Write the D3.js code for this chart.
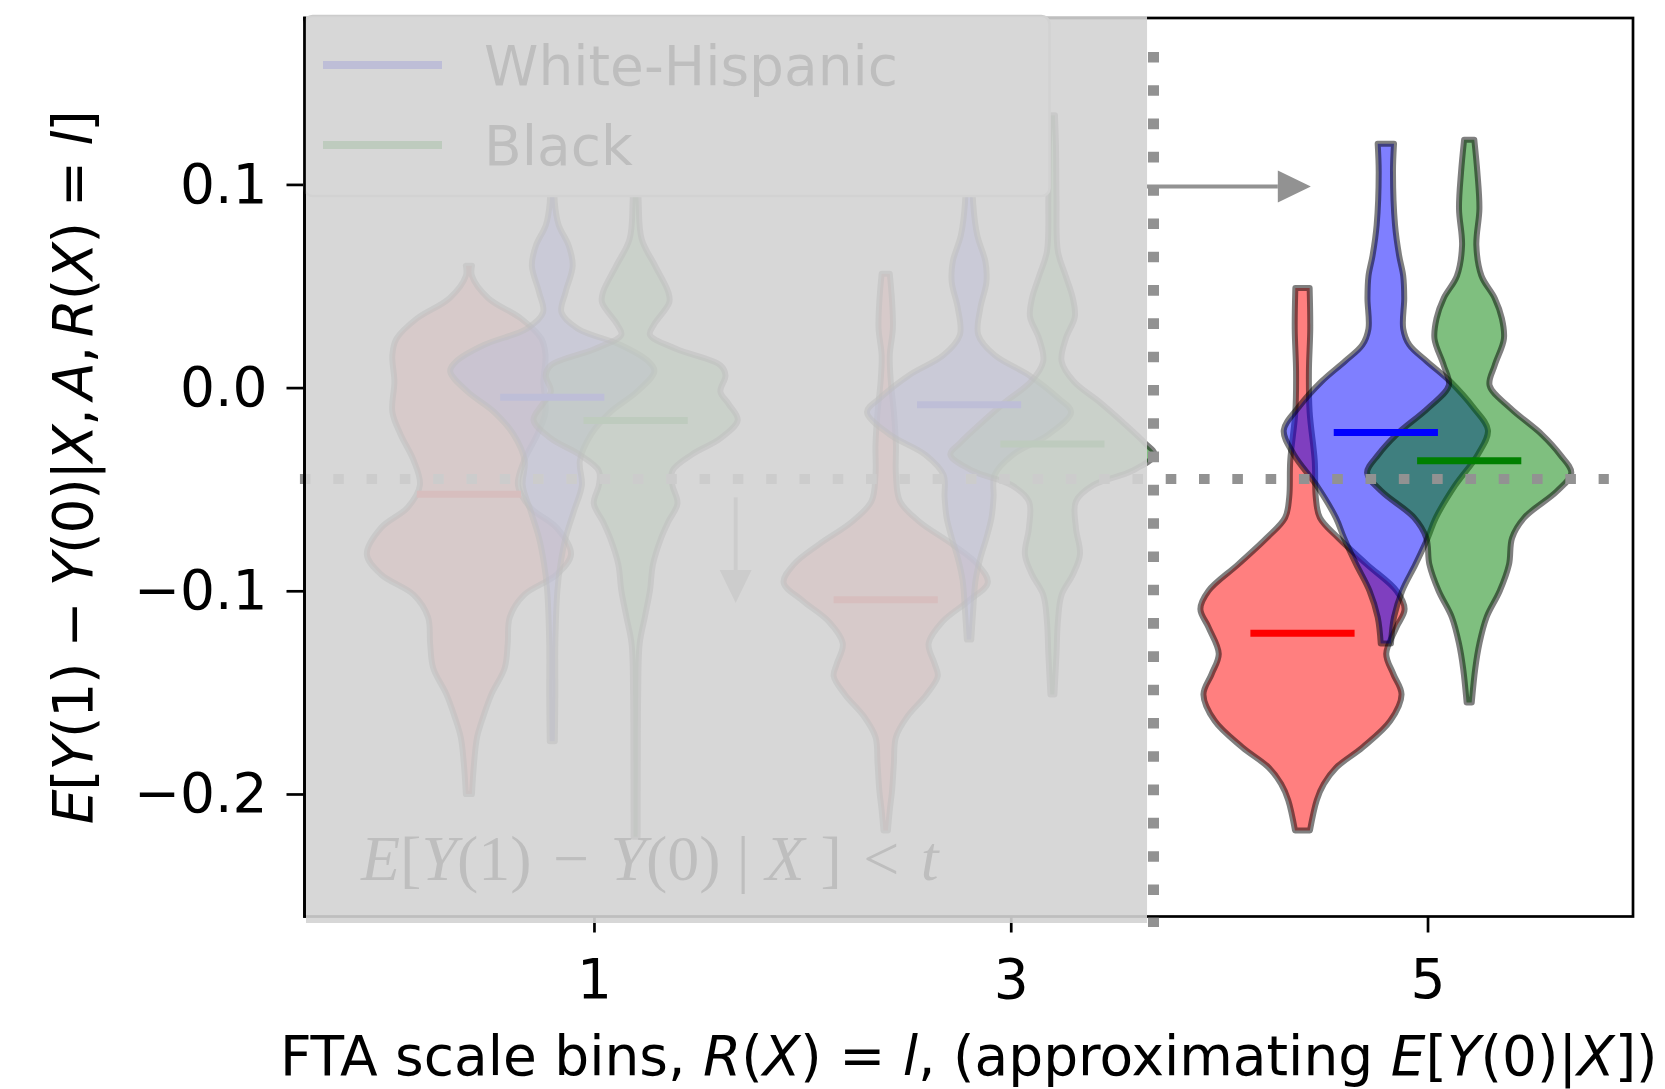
<!DOCTYPE html>
<html lang="en">
<head>
<meta charset="UTF-8">
<title>Violins by bin</title>
<script src="https://d3js.org/d3.v7.min.js"></script>
<style>body{margin:0;background:#fff} text{white-space:pre}</style>
</head>
<body>
<script>
const width = 1665, height = 1089;
const plot = {left: 304.5, right: 1633, top: 18, bottom: 916.5};

// layout of the bins and the three groups
const bins = [1, 3, 5];
const groupShift = [-0.6, -0.2, 0.2];
const colors = ["red", "blue", "green"];
const legendLabels = ["White-Hispanic", "Black"];
const yTicks = [-0.2, -0.1, 0.0, 0.1];

// violin outlines: [value, relative half width]
const red1 = [[0.060,0.03],[0.055,0.03],[0.044,0.19],[0.034,0.51],[0.024,0.71],[0.016,0.75],[0.003,0.73],[-0.012,0.75],[-0.023,0.67],[-0.036,0.54],[-0.048,0.48],[-0.059,0.60],[-0.069,0.86],[-0.082,1.0],[-0.092,0.86],[-0.102,0.54],[-0.113,0.40],[-0.126,0.38],[-0.138,0.35],[-0.151,0.22],[-0.162,0.14],[-0.172,0.08],[-0.185,0.05],[-0.200,0.03]];
const blue1 = [[0.110,0.025],[0.091,0.025],[0.080,0.063],[0.070,0.16],[0.060,0.20],[0.047,0.13],[0.037,0.09],[0.029,0.25],[0.021,0.67],[0.013,0.94],[0.008,1.0],[-0.002,0.83],[-0.012,0.57],[-0.023,0.38],[-0.036,0.27],[-0.048,0.29],[-0.061,0.21],[-0.074,0.13],[-0.087,0.08],[-0.100,0.05],[-0.126,0.03],[-0.151,0.03],[-0.174,0.025]];
const green1 = [[0.130,0.03],[0.091,0.03],[0.073,0.06],[0.060,0.19],[0.047,0.32],[0.042,0.33],[0.031,0.18],[0.026,0.14],[0.019,0.40],[0.011,0.83],[0.006,0.88],[-0.002,0.83],[-0.008,0.91],[-0.016,1.0],[-0.025,0.83],[-0.033,0.55],[-0.041,0.36],[-0.048,0.36],[-0.057,0.41],[-0.066,0.32],[-0.074,0.25],[-0.087,0.17],[-0.100,0.14],[-0.113,0.09],[-0.126,0.04],[-0.151,0.025],[-0.177,0.022],[-0.221,0.02]];
const red3 = [[0.056,0.04],[0.042,0.063],[0.029,0.07],[0.016,0.04],[0.003,0.05],[-0.012,0.08],[-0.028,0.10],[-0.043,0.10],[-0.056,0.14],[-0.066,0.33],[-0.077,0.65],[-0.087,0.90],[-0.096,1.0],[-0.105,0.81],[-0.115,0.56],[-0.126,0.42],[-0.136,0.48],[-0.142,0.51],[-0.151,0.40],[-0.162,0.21],[-0.172,0.10],[-0.185,0.08],[-0.198,0.063],[-0.208,0.04],[-0.218,0.022]];
const blue3 = [[0.125,0.03],[0.091,0.04],[0.075,0.08],[0.062,0.16],[0.052,0.17],[0.039,0.11],[0.026,0.09],[0.016,0.25],[0.006,0.59],[-0.005,0.87],[-0.012,1.0],[-0.023,0.78],[-0.033,0.43],[-0.043,0.25],[-0.054,0.24],[-0.064,0.22],[-0.074,0.17],[-0.084,0.11],[-0.095,0.063],[-0.110,0.04],[-0.124,0.022]];
const green3 = [[0.134,0.025],[0.119,0.035],[0.093,0.04],[0.067,0.054],[0.055,0.13],[0.044,0.20],[0.035,0.22],[0.024,0.13],[0.013,0.09],[0.003,0.21],[-0.007,0.46],[-0.018,0.71],[-0.027,0.90],[-0.033,1.0],[-0.041,0.78],[-0.048,0.40],[-0.056,0.23],[-0.069,0.23],[-0.082,0.27],[-0.092,0.20],[-0.102,0.09],[-0.115,0.054],[-0.131,0.04],[-0.151,0.02]];
const red5 = [[0.049,0.07],[0.029,0.076],[0.008,0.063],[-0.012,0.07],[-0.036,0.12],[-0.054,0.13],[-0.064,0.17],[-0.074,0.35],[-0.087,0.63],[-0.100,0.92],[-0.109,1.0],[-0.118,0.92],[-0.131,0.82],[-0.141,0.89],[-0.151,0.97],[-0.164,0.86],[-0.177,0.59],[-0.187,0.33],[-0.195,0.21],[-0.203,0.14],[-0.218,0.073]];
const blue5 = [[0.120,0.08],[0.106,0.07],[0.080,0.09],[0.065,0.13],[0.055,0.17],[0.044,0.18],[0.029,0.17],[0.021,0.23],[0.013,0.40],[0.003,0.63],[-0.010,0.86],[-0.021,1.0],[-0.033,0.90],[-0.048,0.68],[-0.064,0.49],[-0.074,0.41],[-0.087,0.29],[-0.100,0.16],[-0.113,0.08],[-0.126,0.05]];
const green5 = [[0.122,0.05],[0.106,0.08],[0.088,0.10],[0.070,0.07],[0.055,0.12],[0.044,0.25],[0.034,0.32],[0.024,0.34],[0.011,0.25],[0.001,0.20],[-0.010,0.40],[-0.023,0.71],[-0.033,0.89],[-0.042,1.0],[-0.051,0.86],[-0.064,0.54],[-0.074,0.42],[-0.087,0.39],[-0.100,0.30],[-0.113,0.17],[-0.126,0.10],[-0.138,0.06],[-0.155,0.025]];

// mean of each group per bin
const meanRed = [-0.0525, -0.1044, -0.1209];
const meanBlue = [-0.0047, -0.0085, -0.0221];
const meanGreen = [-0.0162, -0.0278, -0.0360];

// threshold markers
const cutX = 3.685, shadeEnd = 3.654, cutY = -0.045;

const violins = [red1, blue1, green1, red3, blue3, green3, red5, blue5, green5];
const means = [meanRed, meanBlue, meanGreen];
const halfWidth = 0.49, barHalf = 0.25;

const x = d3.scaleLinear().domain([-0.389, 5.986]).range([plot.left, plot.right]);
const y = d3.scaleLinear().domain([-0.2603, 0.1819]).range([plot.bottom, plot.top]);

const svg = d3.select("body").append("svg").attr("width", width).attr("height", height)
    .attr("font-family", "DejaVu Sans");

function mathText(sel, parts) {
    parts.forEach(([t, it]) => sel.append("tspan").text(t).attr("font-style", it ? "italic" : null));
    return sel;
}

// violins
violins.forEach((prof, i) => {
    const g = i % 3;
    const c = bins[Math.floor(i / 3)] + groupShift[g];
    const area = d3.area()
        .curve(d3.curveCatmullRom)
        .y(d => y(d[0]))
        .x0(d => x(c - d[1] * halfWidth))
        .x1(d => x(c + d[1] * halfWidth));
    svg.append("path")
        .attr("d", area(prof))
        .attr("fill", colors[g]).attr("fill-opacity", .5)
        .attr("stroke", "#000").attr("stroke-opacity", .5)
        .attr("stroke-width", 6).attr("stroke-linejoin", "round");
});

// mean bars
means.forEach((m, g) => {
    m.forEach((v, j) => {
        const c = bins[j] + groupShift[g];
        svg.append("line")
            .attr("x1", x(c - barHalf)).attr("x2", x(c + barHalf))
            .attr("y1", y(v)).attr("y2", y(v))
            .attr("stroke", colors[g]).attr("stroke-width", 7);
    });
});

// horizontal threshold
svg.append("line")
    .attr("x1", x(-0.411)).attr("x2", x(5.87))
    .attr("y1", y(cutY)).attr("y2", y(cutY))
    .attr("stroke", "#929292").attr("stroke-width", 10)
    .attr("stroke-dasharray", "10.6 22.7");

// spines and ticks
svg.append("rect")
    .attr("x", plot.left).attr("y", plot.top)
    .attr("width", plot.right - plot.left).attr("height", plot.bottom - plot.top)
    .attr("fill", "none").attr("stroke", "#000").attr("stroke-width", 2.7);

const xAxis = svg.append("g")
    .attr("transform", "translate(0," + plot.bottom + ")")
    .call(d3.axisBottom(x).tickValues(bins).tickFormat(d3.format("d")).tickSize(16).tickPadding(26));
const yAxis = svg.append("g")
    .attr("transform", "translate(" + plot.left + ",0)")
    .call(d3.axisLeft(y).tickValues(yTicks).tickFormat(d3.format(".1f")).tickSize(18).tickPadding(19));
[xAxis, yAxis].forEach(a => {
    a.attr("font-size", 55).attr("font-family", "DejaVu Sans");
    a.select(".domain").remove();
    a.selectAll(".tick line").attr("stroke-width", 2.7);
});

// legend
const legend = svg.append("g");
legend.append("rect")
    .attr("x", plot.left).attr("y", 16).attr("width", 745).attr("height", 180).attr("rx", 8)
    .attr("fill", "#fff").attr("stroke", "#ccc").attr("stroke-width", 2.7);
legendLabels.forEach((t, i) => {
    legend.append("line")
        .attr("x1", 323).attr("x2", 442).attr("y1", 65 + i * 80).attr("y2", 65 + i * 80)
        .attr("stroke", colors[i + 1]).attr("stroke-width", 8);
    legend.append("text").attr("x", 484).attr("y", 85 + i * 80).attr("font-size", 55).text(t);
});

// region annotation
mathText(svg.append("text").attr("x", 361).attr("y", 880)
    .attr("font-family", "Liberation Serif").attr("font-size", 64),
    [["E",1],["[",0],["Y",1],["(1)\u2004−\u2004",0],["Y",1],["(0) | ",0],["X",1],[" ]\u2004<\u2004",0],["t",1]]);

function arrow(x1, y1, x2, y2) {
    const a = Math.atan2(y2 - y1, x2 - x1), L = 33, w = 16;
    const bx = x2 - L * Math.cos(a), by = y2 - L * Math.sin(a);
    svg.append("line").attr("x1", x1).attr("y1", y1).attr("x2", bx).attr("y2", by)
        .attr("stroke", "#929292").attr("stroke-width", 4);
    svg.append("path")
        .attr("d", d3.line()([[x2, y2], [bx - w * Math.sin(a), by + w * Math.cos(a)], [bx + w * Math.sin(a), by - w * Math.cos(a)]]) + "Z")
        .attr("fill", "#929292");
}
arrow(x(1.68), y(-0.054), x(1.68), y(-0.106));

// shaded region below the cut
svg.append("rect")
    .attr("x", plot.left + 1.5).attr("y", 16)
    .attr("width", x(shadeEnd) - plot.left - 1.5).attr("height", 923 - 16)
    .attr("fill", "#d3d3d3").attr("fill-opacity", .9);

// vertical threshold and arrow
svg.append("line")
    .attr("x1", x(cutX)).attr("x2", x(cutX))
    .attr("y1", y(0.1652)).attr("y2", y(-0.2655))
    .attr("stroke", "#929292").attr("stroke-width", 11)
    .attr("stroke-dasharray", "10.6 22.7");
arrow(x(shadeEnd), y(0.099), x(4.44), y(0.099));

svg.append("line")
    .attr("x1", plot.left).attr("x2", plot.left).attr("y1", plot.top - 1.35).attr("y2", plot.bottom + 1.35)
    .attr("stroke", "#000").attr("stroke-width", 2.7);

// axis labels
mathText(svg.append("text").attr("x", (plot.left + plot.right) / 2).attr("y", 1075)
    .attr("text-anchor", "middle").attr("font-size", 55),
    [["FTA scale bins, ",0],["R",1],["(",0],["X",1],[") = ",0],["l",1],[", (approximating ",0],["E",1],["[",0],["Y",1],["(0)|",0],["X",1],["])",0]]);

mathText(svg.append("text")
    .attr("transform", "translate(92," + (plot.top + plot.bottom) / 2 + ") rotate(-90)")
    .attr("text-anchor", "middle").attr("font-size", 55)
    .attr("textLength", 714).attr("lengthAdjust", "spacing"),
    [["E",1],["[",0],["Y",1],["(1) − ",0],["Y",1],["(0)|",0],["X",1],[",\u2009",0],["A",1],[",\u2009",0],["R",1],["(",0],["X",1],[") = ",0],["l",1],["]",0]]);
</script>
</body>
</html>
